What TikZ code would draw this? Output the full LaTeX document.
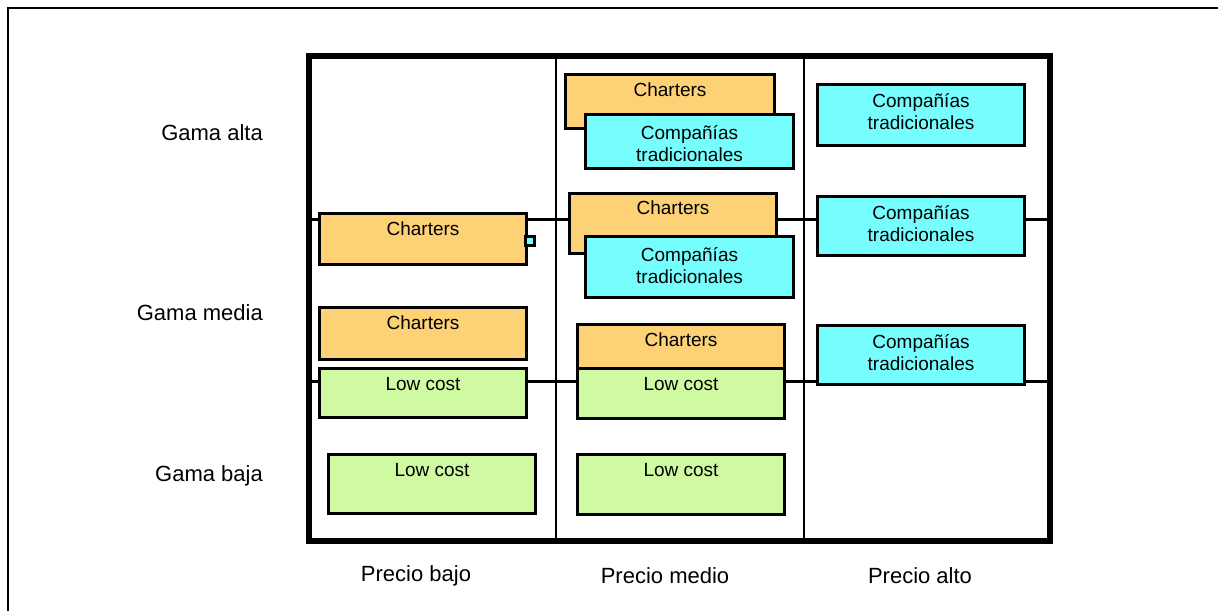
\documentclass[tikz,border=0pt]{standalone}
\usepackage{fontspec}
\setmainfont{Liberation Sans}
\usetikzlibrary{positioning}
\definecolor{charter}{HTML}{FDD176}
\definecolor{tradic}{HTML}{76FEFE}
\definecolor{lowcost}{HTML}{D0FAA2}

\begin{document}
\begin{tikzpicture}[x=1pt, y=-1pt,
		caja/.style={draw=black, line width=3pt, anchor=north west, inner sep=0pt},
		charters/.style={caja, fill=charter},
		compania/.style={caja, fill=tradic},
		lowc/.style={caja, fill=lowcost},
		txt/.style={inner sep=0pt, align=center, font=\fontsize{19}{22}\selectfont},
		eje/.style={inner sep=0pt, font=\fontsize{22}{26}\selectfont}]
		\useasboundingbox (0,0) rectangle (1218,611);
		
		% marco exterior
		\draw[line width=2pt] (8,611) -- (8,8) -- (1218,8);
		
		% cuadricula
		\draw[line width=3pt] (309,219) -- (1050,219);
		\draw[line width=3pt] (309,381) -- (1050,381);
		\draw[line width=2.5pt] (556,56) -- (556,541);
		\draw[line width=2.5pt] (804,56) -- (804,541);
		\draw[line width=6pt] (309,56) rectangle (1050,541);
		
		% precio bajo
		\node[charters, minimum width=207pt, minimum height=51pt] (ch1) at (318,212) {};
		\node[txt, below=10pt of ch1.north] (ch1t) {Charters};
		\node[draw, line width=2.5pt, fill=tradic, minimum size=9pt, inner sep=0pt] (sq) at (530,241) {};
		\node[charters, minimum width=207pt, minimum height=52pt] (ch2) at (318,306) {};
		\node[txt, below=10pt of ch2.north] (ch2t) {Charters};
		\node[lowc, minimum width=207pt, minimum height=49pt] (lc1) at (318,367) {};
		\node[txt, below=10pt of lc1.north] (lc1t) {Low cost};
		\node[lowc, minimum width=207pt, minimum height=59pt] (lc2) at (327,453) {};
		\node[txt, below=10pt of lc2.north] (lc2t) {Low cost};
		
		% precio medio
		\node[charters, minimum width=209pt, minimum height=54pt] (ch3) at (564,73) {};
		\node[txt, below=10pt of ch3.north] (ch3t) {Charters};
		\node[compania, minimum width=208pt, minimum height=54pt] (ct1) at (584,113) {};
		\node[txt, below=12pt of ct1.north] (ct1t) {Compañías\\tradicionales};
		\node[charters, minimum width=207pt, minimum height=60pt] (ch4) at (568,192) {};
		\node[txt, below=9pt of ch4.north] (ch4t) {Charters};
		\node[compania, minimum width=208pt, minimum height=61pt] (ct2) at (584,235) {};
		\node[txt, below=12pt of ct2.north] (ct2t) {Compañías\\tradicionales};
		\node[charters, minimum width=207pt, minimum height=44pt] (ch5) at (576,323) {};
		\node[txt, below=10pt of ch5.north] (ch5t) {Charters};
		\node[lowc, minimum width=207pt, minimum height=50pt] (lc3) at (576,367) {};
		\node[txt, below=10pt of lc3.north] (lc3t) {Low cost};
		\node[lowc, minimum width=207pt, minimum height=60pt] (lc4) at (576,453) {};
		\node[txt, below=10pt of lc4.north] (lc4t) {Low cost};
		
		% precio alto
		\node[compania, minimum width=207pt, minimum height=61pt] (ct3) at (816,83) {};
		\node[txt, below=10pt of ct3.north] (ct3t) {Compañías\\tradicionales};
		\node[compania, minimum width=207pt, minimum height=59pt] (ct4) at (816,195) {};
		\node[txt, below=10pt of ct4.north] (ct4t) {Compañías\\tradicionales};
		\node[compania, minimum width=207pt, minimum height=59pt] (ct5) at (816,324) {};
		\node[txt, below=10pt of ct5.north] (ct5t) {Compañías\\tradicionales};
		
		% ejes
		\node[eje, anchor=east] (galta) at (263,133) {Gama alta};
		\node[eje, anchor=east] (gmedia) at (263,313) {Gama media};
		\node[eje, anchor=east] (gbaja) at (263,476) {Gama baja};
		\node[eje] (pbajo) at (416,576) {Precio bajo};
		\node[eje] (pmedio) at (665,576) {Precio medio};
		\node[eje] (palto) at (920,576) {Precio alto};
	\end{tikzpicture}
\end{document}
